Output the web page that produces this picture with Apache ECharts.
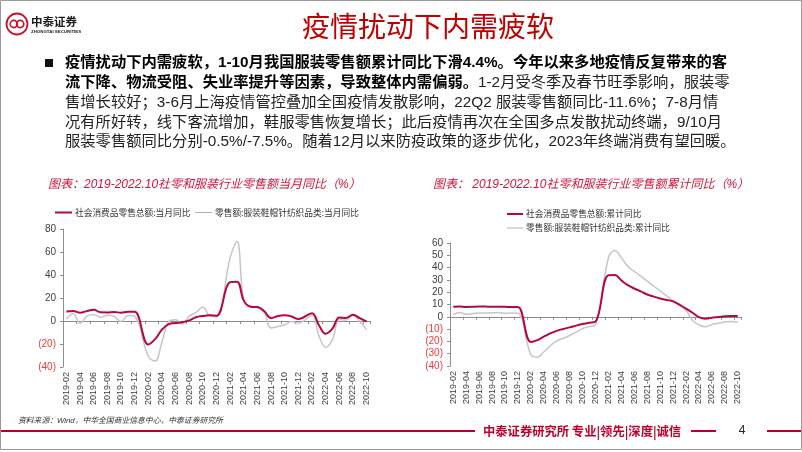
<!DOCTYPE html>
<html><head><meta charset="utf-8">
<script src="https://cdn.jsdelivr.net/npm/echarts@6/dist/echarts.min.js"></script>
<style>html,body{margin:0;padding:0;background:#fff}#c{width:802px;height:452px}</style>
</head><body><div id="c"></div>
<script>
// ---- categories (monthly, 2019-02 .. 2022-10) ----
const months = [
 '2019-02','2019-03','2019-04','2019-05','2019-06','2019-07','2019-08','2019-09','2019-10','2019-11','2019-12',
 '2020-01','2020-02','2020-03','2020-04','2020-05','2020-06','2020-07','2020-08','2020-09','2020-10','2020-11','2020-12',
 '2021-01','2021-02','2021-03','2021-04','2021-05','2021-06','2021-07','2021-08','2021-09','2021-10','2021-11','2021-12',
 '2022-01','2022-02','2022-03','2022-04','2022-05','2022-06','2022-07','2022-08','2022-09','2022-10'];

// ---- left chart: monthly YoY (%) ----
const retailMonthly = [
 8.2, 8.7, 7.2, 8.6, 9.8, 7.6, 7.5, 7.8, 7.2, 8.0, 8.0,
 null, -20.5, -15.8, -7.5, -2.8, -1.8, -1.1, 0.5, 3.3, 4.3, 5.0, 4.6,
 null, 33.8, 34.2, 17.7, 12.4, 12.1, 8.5, 2.5, 4.4, 4.9, 3.9, 1.7,
 null, 6.7, -3.5, -11.1, -6.7, 3.1, 2.7, 5.4, 2.5, -0.5];
const apparelMonthly = [
 1.8, 6.6, -2.1, 4.3, 5.6, 3.2, 5.0, 4.0, -0.5, 4.8, 4.0,
 null, -30.9, -34.8, -18.5, -0.6, 1.1, -2.5, 4.2, 7.5, 12.1, 4.6, 3.8,
 null, 55.2, 69.1, 17.9, 12.6, 11.8, 7.5, -6.0, -4.8, -3.3, -0.5, -1.8,
 null, 5.0, -12.7, -22.8, -16.2, 1.2, 0.8, 5.1, -0.5, -7.5];

// ---- right chart: cumulative YoY (%) ----
const retailCumulative = [
 8.2, 8.3, 8.0, 8.1, 8.4, 8.3, 8.2, 8.2, 8.1, 8.0, 8.0,
 null, -20.5, -19.0, -16.2, -13.5, -11.4, -9.9, -8.6, -7.2, -5.9, -4.8, -3.9,
 null, 33.8, 33.9, 29.6, 25.7, 23.0, 20.7, 18.1, 16.4, 14.9, 13.7, 12.5,
 null, 6.7, 3.3, -0.2, -1.5, -0.7, -0.2, 0.5, 0.7, 0.6];
const apparelCumulative = [
 1.8, 3.4, 2.0, 2.6, 3.0, 3.1, 3.2, 3.4, 2.9, 3.0, 2.9,
 null, -30.9, -32.8, -28.6, -23.5, -19.6, -17.5, -15.2, -12.5, -9.5, -8.0, -6.6,
 null, 48.0, 54.0, 48.0, 41.0, 37.0, 33.0, 29.0, 25.0, 21.0, 17.0, 13.0,
 null, 5.0, -3.0, -6.5, -8.1, -6.2, -5.3, -4.2, -3.8, -4.4];

const leftNames = ['社会消费品零售总额:当月同比', '零售额:服装鞋帽针纺织品类:当月同比'];
const rightNames = ['社会消费品零售总额:累计同比', '零售额:服装鞋帽针纺织品类:累计同比'];
const leftYTicks = {min: -40, max: 80, interval: 20};
const rightYTicks = {min: -40, max: 60, interval: 10};

const RED = '#b5093b', GREY = '#c6c6c6', AXIS = '#8c8c8c';
const NUMFONT = '"Liberation Sans", Arial, sans-serif';
const CJK = '"Liberation Sans", "Noto Sans CJK SC", sans-serif';

function yAxis(idx, t) {
  return {
    type: 'value', gridIndex: idx, min: t.min, max: t.max, interval: t.interval,
    splitLine: {show: false},
    axisLine: {show: true, lineStyle: {color: AXIS}},
    axisTick: {show: true, length: 3, lineStyle: {color: AXIS}},
    axisLabel: {
      margin: 7, fontSize: 10, color: '#404040', fontFamily: NUMFONT,
      formatter: v => v < 0 ? '{n|(' + (-v) + ')}' : String(v),
      rich: {n: {color: '#f03c3c', fontSize: 10, fontFamily: NUMFONT}}
    }
  };
}
function xAxes(idx) {
  return [{
    type: 'category', gridIndex: idx, data: months, boundaryGap: true,
    axisLine: {show: false, onZero: false}, axisTick: {show: false},
    axisLabel: {interval: 1, rotate: 90, fontSize: 9, color: '#404040', fontFamily: NUMFONT, margin: 5}
  }, {
    type: 'category', gridIndex: idx, data: months, boundaryGap: true, position: 'bottom',
    axisLine: {show: true, onZero: true, lineStyle: {color: AXIS}},
    axisTick: {show: true, interval: 1, length: 3, lineStyle: {color: AXIS}},
    axisLabel: {show: false}
  }];
}
function line(name, data, xi, yi, color, width, z) {
  return {name, type: 'line', data, xAxisIndex: xi, yAxisIndex: yi, smooth: 0.4,
    connectNulls: true, showSymbol: false, symbol: 'none', z,
    lineStyle: {color, width}, itemStyle: {color}, animation: false};
}

const textLines = [
  '{b|疫情扰动下内需疲软，1-10月我国服装零售额累计同比下滑4.4%。今年以来多地疫情反复带来的客}',
  '{b|流下降、物流受阻、失业率提升等因素，导致整体内需偏弱。}{n|1-2月受冬季及春节旺季影响，服装零}',
  '{n|售增长较好；3-6月上海疫情管控叠加全国疫情发散影响，22Q2 服装零售额同比-11.6%；7-8月情}',
  '{n|况有所好转，线下客流增加，鞋服零售恢复增长；此后疫情再次在全国多点发散扰动终端，9/10月}',
  '{n|服装零售额同比分别-0.5%/-7.5%。随着12月以来防疫政策的逐步优化，2023年终端消费有望回暖。}'
];
const lineY = [63, 83, 103, 123, 142];

const graphic = [
  {type: 'rect', shape: {x: 0.5, y: 0.5, width: 801, height: 449}, style: {fill: 'none', stroke: '#9a9a9a', lineWidth: 1}, silent: true},
  // logo
  {type: 'circle', shape: {cx: 17, cy: 24, r: 10.5}, style: {fill: 'none', stroke: '#c8102e', lineWidth: 1.8}},
  {type: 'circle', shape: {cx: 13.8, cy: 24, r: 3.6}, style: {fill: 'none', stroke: '#c8102e', lineWidth: 1.6}},
  {type: 'circle', shape: {cx: 20.2, cy: 24, r: 3.6}, style: {fill: 'none', stroke: '#c8102e', lineWidth: 1.6}},
  {type: 'text', style: {text: '中泰证券', x: 31, y: 22, verticalAlign: 'middle', font: 'bold 11.5px "Noto Sans CJK SC"', fill: '#1a1a1a'}},
  {type: 'text', style: {text: 'ZHONGTAI SECURITIES', x: 31, y: 32, verticalAlign: 'middle', font: 'bold 4.4px "Liberation Sans"', fill: '#1a1a1a'}},
  // title
  {type: 'text', style: {text: '疫情扰动下内需疲软', x: 428, y: 26, align: 'center', verticalAlign: 'middle', font: '28px "Noto Sans CJK SC"', fill: '#c00000'}},
  // bullet
  {type: 'rect', shape: {x: 45, y: 59, width: 8, height: 8}, style: {fill: '#111'}},
  // chart titles
  {type: 'text', style: {text: '图表：2019-2022.10社零和服装行业零售额当月同比（%）', x: 48, y: 185, verticalAlign: 'middle', font: 'italic 12px ' + CJK, fill: '#d0143c'}},
  {type: 'text', style: {text: '图表： 2019-2022.10社零和服装行业零售额累计同比（%）', x: 433, y: 185, verticalAlign: 'middle', font: 'italic 12px ' + CJK, fill: '#d0143c'}},
  // legends (drawn as graphic keys)
  {type: 'line', shape: {x1: 55, y1: 212.5, x2: 72, y2: 212.5}, style: {stroke: RED, lineWidth: 2}},
  {type: 'text', style: {text: leftNames[0], x: 75, y: 212.5, verticalAlign: 'middle', font: '8.7px "Noto Sans CJK SC"', fill: '#333'}},
  {type: 'line', shape: {x1: 195, y1: 212.5, x2: 212, y2: 212.5}, style: {stroke: '#b0b0b0', lineWidth: 1}},
  {type: 'text', style: {text: leftNames[1], x: 215, y: 212.5, verticalAlign: 'middle', font: '8.7px "Noto Sans CJK SC"', fill: '#333'}},
  {type: 'line', shape: {x1: 507, y1: 214, x2: 523, y2: 214}, style: {stroke: RED, lineWidth: 2}},
  {type: 'text', style: {text: rightNames[0], x: 526, y: 214, verticalAlign: 'middle', font: '8.7px "Noto Sans CJK SC"', fill: '#333'}},
  {type: 'line', shape: {x1: 507, y1: 228, x2: 523, y2: 228}, style: {stroke: '#b0b0b0', lineWidth: 1}},
  {type: 'text', style: {text: rightNames[1], x: 526, y: 228, verticalAlign: 'middle', font: '8.7px "Noto Sans CJK SC"', fill: '#333'}},
  // source
  {type: 'text', style: {text: '资料来源：Wind，中华全国商业信息中心，中泰证券研究所', x: 18, y: 421, verticalAlign: 'middle', font: 'italic 7.8px ' + CJK, fill: '#333'}},
  // footer
  {type: 'line', shape: {x1: 1, y1: 431, x2: 475, y2: 431}, style: {stroke: '#b5002f', lineWidth: 2}},
  {type: 'text', style: {text: '中泰证券研究所 专业|领先|深度|诚信', x: 483, y: 431, verticalAlign: 'middle', font: 'bold 12.3px "Noto Sans CJK SC"', fill: '#c0002a'}},
  {type: 'line', shape: {x1: 691, y1: 431, x2: 716, y2: 431}, style: {stroke: '#b5002f', lineWidth: 2}},
  {type: 'text', style: {text: '4', x: 742, y: 431, align: 'center', verticalAlign: 'middle', font: '12px "Liberation Sans"', fill: '#222'}},
  {type: 'line', shape: {x1: 767, y1: 431, x2: 801, y2: 431}, style: {stroke: '#b5002f', lineWidth: 2}}
];
textLines.forEach((t, i) => graphic.push({type: 'text', style: {
  text: t, x: 65, y: lineY[i], verticalAlign: 'middle',
  rich: {
    b: {fontSize: 15.3, fontWeight: 'bold', fill: '#000', fontFamily: CJK},
    n: {fontSize: 15.3, fill: '#222', fontFamily: CJK}
  }
}}));

const option = {
  backgroundColor: '#fff',
  animation: false,
  graphic,
  grid: [
    {left: 63, right: 432, top: 229, bottom: 85},
    {left: 450, right: 61, top: 243, bottom: 86}
  ],
  xAxis: [...xAxes(0), ...xAxes(1)],
  yAxis: [yAxis(0, leftYTicks), yAxis(1, rightYTicks)],
  series: [
    line(leftNames[1], apparelMonthly, 0, 0, GREY, 1.5, 2),
    line(leftNames[0], retailMonthly, 0, 0, RED, 2, 3),
    line(rightNames[1], apparelCumulative, 2, 1, GREY, 1.5, 2),
    line(rightNames[0], retailCumulative, 2, 1, RED, 2, 3)
  ]
};
const chart = echarts.init(document.getElementById('c'));
chart.setOption(option);
</script>
</body></html>
